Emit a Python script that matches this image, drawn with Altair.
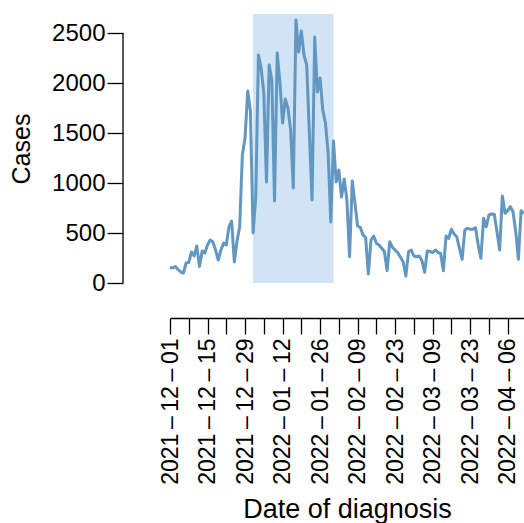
import datetime
import altair as alt
import pandas as pd

# ---------------- data ----------------
start_date = "2021-12-01"
cases = [
    157, 150, 165, 135, 110, 100, 200, 205, 310, 270,
    370, 165, 320, 300, 380, 430, 410, 330, 230, 330,
    400, 380, 560, 620, 210, 420, 560, 1280, 1450, 1920,
    1720, 500, 860, 2280, 2150, 1900, 1010, 2180, 2030, 820,
    2300, 2010, 1600, 1840, 1750, 1530, 950, 2630, 2310, 2520,
    2280, 2180, 1500, 830, 2460, 1910, 2050, 1730, 1600, 1300,
    610, 1420, 1010, 1130, 860, 1040, 830, 263, 1020, 800,
    570, 557, 480, 457, 90, 430, 470, 397, 380, 347,
    313, 123, 413, 357, 330, 303, 257, 213, 70, 313,
    330, 270, 263, 270, 223, 108, 320, 315, 305, 330,
    307, 293, 123, 470, 447, 537, 490, 463, 347, 237,
    530, 547, 537, 537, 553, 380, 247, 647, 563, 680,
    690, 687, 513, 330, 870, 697, 723, 763, 713, 513,
    237, 723, 697,
]
dates = pd.date_range(start_date, periods=len(cases), freq="D").strftime("%Y-%m-%d")

highlight_start = ["2022-01-01"]
highlight_end = ["2022-01-31"]

y_ticks = [0, 500, 1000, 1500, 2000, 2500]
x_tick_dates = [
    "2021-12-01", "2021-12-08", "2021-12-15", "2021-12-22", "2021-12-29",
    "2022-01-05", "2022-01-12", "2022-01-19", "2022-01-26", "2022-02-02",
    "2022-02-09", "2022-02-16", "2022-02-23", "2022-03-02", "2022-03-09",
    "2022-03-16", "2022-03-23", "2022-03-30", "2022-04-06",
]
x_domain_end = "2022-04-12T02:00:00"
y_top = 2690


def ms(s):
    fmt = "%Y-%m-%dT%H:%M:%S" if "T" in s else "%Y-%m-%d"
    d = datetime.datetime.strptime(s, fmt).replace(tzinfo=datetime.timezone.utc)
    return int(d.timestamp() * 1000)


t0 = ms(start_date)
df = pd.DataFrame({"date": dates, "cases": cases})
hl = pd.DataFrame({"start": highlight_start, "end": highlight_end})
one = pd.DataFrame({"a": [0]})

font = "Liberation Sans"
label_expr = (
    f"(round((datum.value - {t0}) / 86400000) % 14 == 0) ? "
    "utcFormat(datum.value, '%Y\u2009–\u2009%m\u2009–\u2009%d') : ''"
)

x_scale = alt.Scale(type="utc", domain=[t0, ms(x_domain_end)])
y_scale = alt.Scale(domain=[0, y_top], nice=False, zero=True)

x_axis = alt.Axis(
    values=[ms(d) for d in x_tick_dates],
    labelExpr=label_expr,
    labelAngle=270,
    labelAlign="right",
    labelBaseline="middle",
    labelFontSize=23,
    labelPadding=4,
    labelOverlap=False,
    labelFlush=False,
    tickSize=16,
    offset=35,
    titleFontSize=27,
    titlePadding=12,
)
y_axis = alt.Axis(
    values=y_ticks,
    format="d",
    domain=False,
    tickSize=16,
    labelPadding=2,
    labelFontSize=24,
    offset=47,
    titleFontSize=25,
    titlePadding=17,
)

rect = alt.Chart(hl).mark_rect(color="#d1e4f5").encode(
    x=alt.X("start:T", scale=x_scale, axis=x_axis, title="Date of diagnosis"),
    x2="end:T",
    y=alt.datum(0, scale=y_scale, axis=y_axis, title="Cases"),
    y2=alt.datum(y_top),
)

line = alt.Chart(df).mark_line(color="#6197c1", strokeWidth=3, strokeJoin="round").encode(
    x=alt.X("date:T", scale=x_scale, axis=x_axis, title="Date of diagnosis"),
    y=alt.Y("cases:Q", scale=y_scale, axis=y_axis, title="Cases"),
)

yline = alt.Chart(one).mark_rule(color="black", strokeWidth=1.3).encode(
    x=alt.value(-47),
    y=alt.datum(0),
    y2=alt.datum(2500),
)

chart = (
    alt.layer(rect, line, yline)
    .properties(
        width=354,
        height=269,
        padding={"left": 170, "top": 14, "right": 0, "bottom": 240},
        autosize=alt.AutoSizeParams(type="none"),
    )
    .configure_view(stroke=None)
    .configure_axis(
        grid=False,
        labelFont=font,
        titleFont=font,
        labelColor="black",
        titleColor="black",
        tickColor="black",
        domainColor="black",
        tickWidth=1.3,
        domainWidth=1.3,
        titleFontWeight="normal",
    )
)

chart.save("out.html", embed_options={"renderer": "svg", "actions": False})
